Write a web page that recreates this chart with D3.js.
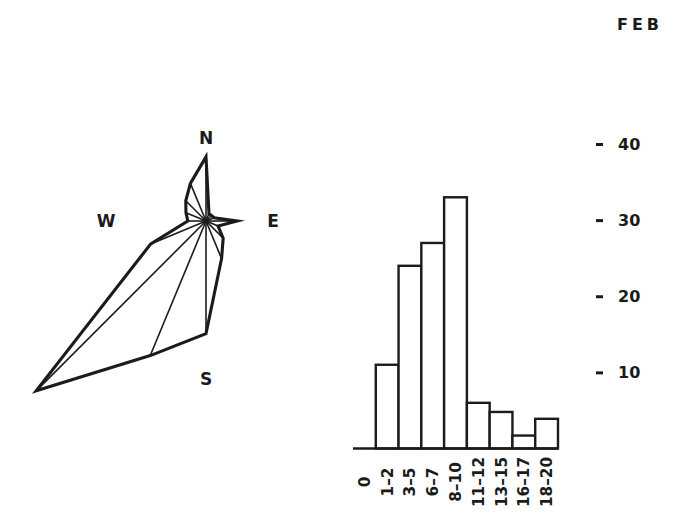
<!DOCTYPE html>
<html>
<head>
<meta charset="utf-8">
<script src="https://cdn.jsdelivr.net/npm/d3@7"></script>
<style>
  html, body { margin: 0; padding: 0; background: #fff; }
  svg { display: block; }
  text { font-family: "DejaVu Sans", sans-serif; font-weight: bold; fill: #1b1b1b; }
</style>
</head>
<body>
<svg id="chart" width="683" height="518"></svg>
<script>
// Month shown in the corner
const month = "FEB";

// Wind rose: share of observations (%) from each of the 16 compass points
const directions = ["N", "NNE", "NE", "ENE", "E", "ESE", "SE", "SSE",
                    "S", "SSW", "SW", "WSW", "W", "WNW", "NW", "NNW"];
const directionShare = [7.4, 0.9, 0.9, 1.0, 3.6, 1.5, 2.8, 4.7,
                        13.0, 16.8, 27.7, 6.9, 2.1, 2.5, 3.3, 4.7];
const compassLabels = ["N", "E", "S", "W"];

// Wind speed histogram
const speedClasses = ["0", "1–2", "3–5", "6–7", "8–10", "11–12", "13–15", "16–17", "18–20"];
const speedCounts = [0, 11, 24, 27, 33, 6, 4.8, 1.7, 3.9];
const countTicks = [10, 20, 30, 40];

const ink = "#1b1b1b";
const svg = d3.select("#chart");

// ---------- wind rose ----------
const roseCenter = [206, 221];
const angle = d3.scaleLinear().domain([0, directions.length]).range([0, 2 * Math.PI]);
const radius = d3.scaleLinear().domain([0, 10]).range([0, 86.7]);

const rose = svg.append("g").attr("transform", `translate(${roseCenter})`);
const rosePoints = directionShare.map((v, i) => ({ a: angle(i), r: radius(v) }));

// spokes from the centre to every vertex
rose.selectAll("line.spoke")
  .data(rosePoints)
  .join("line")
  .attr("class", "spoke")
  .attr("x1", 0).attr("y1", 0)
  .attr("x2", d => d.r * Math.sin(d.a))
  .attr("y2", d => -d.r * Math.cos(d.a))
  .attr("stroke", ink)
  .attr("stroke-width", 1.6);

// outline
const radial = d3.lineRadial()
  .angle(d => d.a)
  .radius(d => d.r)
  .curve(d3.curveLinearClosed);

rose.append("path")
  .attr("d", radial(rosePoints))
  .attr("fill", "none")
  .attr("stroke", ink)
  .attr("stroke-width", 3.1)
  .attr("stroke-linejoin", "miter")
  .attr("stroke-miterlimit", 8);

// compass letters, each set at its own distance from the centre
const labelDistance = { N: 83, E: 67, S: 158, W: 100 };
const labelAngle = { N: 0, E: 90, S: 180, W: 270 };
rose.selectAll("text.compass")
  .data(compassLabels)
  .join("text")
  .attr("class", "compass")
  .attr("x", d => labelDistance[d] * Math.sin(labelAngle[d] * Math.PI / 180))
  .attr("y", d => -labelDistance[d] * Math.cos(labelAngle[d] * Math.PI / 180))
  .attr("dy", "0.36em")
  .attr("text-anchor", "middle")
  .attr("font-size", 17)
  .text(d => d);

// ---------- wind speed histogram ----------
const x = d3.scaleBand().domain(speedClasses).range([353, 558]).paddingInner(0);
const y = d3.scaleLinear().domain([0, 40]).range([448.5, 144]);

const hist = svg.append("g");

hist.selectAll("rect.bar")
  .data(speedClasses.map((c, i) => ({ c, v: speedCounts[i] })).filter(d => d.v > 0))
  .join("rect")
  .attr("class", "bar")
  .attr("x", d => x(d.c))
  .attr("y", d => y(d.v))
  .attr("width", x.bandwidth())
  .attr("height", d => y(0) - y(d.v))
  .attr("fill", "#fff")
  .attr("stroke", ink)
  .attr("stroke-width", 2.4);

hist.append("line")
  .attr("x1", x.range()[0]).attr("x2", x.range()[1])
  .attr("y1", y(0)).attr("y2", y(0))
  .attr("stroke", ink)
  .attr("stroke-width", 2.6);

// class labels, turned to read upwards
hist.selectAll("text.cls")
  .data(speedClasses)
  .join("text")
  .attr("class", "cls")
  .attr("transform", d => `translate(${x(d) + x.bandwidth() / 2},482) rotate(-90)`)
  .attr("text-anchor", "middle")
  .attr("dy", "0.36em")
  .attr("font-size", 15.3)
  .text(d => d);

// value axis on the far right
const axis = svg.append("g")
  .attr("transform", "translate(596,0)")
  .call(d3.axisRight(y).tickValues(countTicks).tickSize(7).tickPadding(15));
axis.select(".domain").remove();
axis.selectAll(".tick line").attr("stroke", ink).attr("stroke-width", 3);
axis.selectAll(".tick text")
  .attr("font-family", "DejaVu Sans, sans-serif")
  .attr("font-weight", "bold")
  .attr("font-size", 16)
  .attr("fill", ink);

// month title
svg.append("text")
  .attr("x", 640).attr("y", 24)
  .attr("dy", "0.36em")
  .attr("text-anchor", "middle")
  .attr("font-size", 16)
  .attr("letter-spacing", 4)
  .text(month);
</script>
</body>
</html>
